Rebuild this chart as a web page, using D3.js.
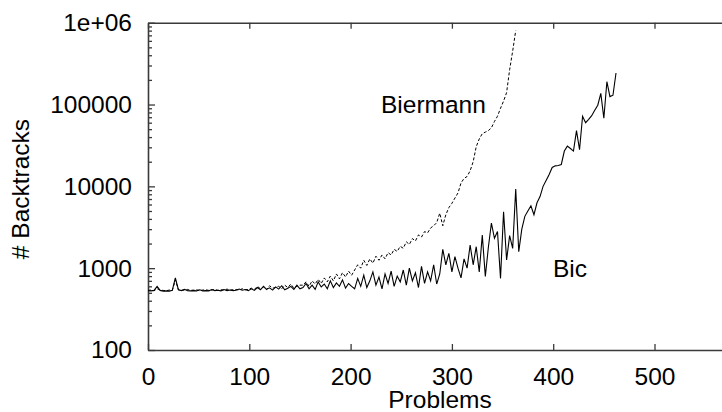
<!DOCTYPE html>
<html>
<head>
<meta charset="utf-8">
<script src="https://cdn.jsdelivr.net/npm/d3@7"></script>
<style>
  html, body { margin: 0; padding: 0; background: #fff; }
  svg { display: block; }
  text { font-family: "Liberation Sans", Arial, Helvetica, sans-serif; fill: #000; }
</style>
</head>
<body>
<svg id="chart" width="722" height="412"></svg>
<script>
// ---- data ----
const xStep = 3; // problems sampled every 3rd index
const bicValues = [
  // 0..99
  530, 528, 535, 600, 535, 525, 528, 525, 535, 760, 545, 532, 552, 532, 528, 532, 528, 545, 528, 532,
  528, 548, 532, 538, 528, 548, 532, 542, 532, 538, 555, 538, 548, 532,
  // 102..150
  560, 535, 580, 545, 600, 550, 575, 540, 590, 555, 610, 545, 570, 600, 550, 620, 560,
  // 153..201
  580, 650, 560, 620, 550, 680, 590, 640, 560, 700, 580, 660, 600, 720, 570, 650, 600,
  // 204..249
  560, 750, 600, 820, 580, 700, 900, 620, 780, 560, 850, 650, 920, 600, 800, 680,
  // 252..288
  950, 620, 1000, 700, 880, 580, 1050, 650, 900, 700, 1100, 640, 850,
  // 291..369
  1700, 1100, 1520, 900, 1380, 1000, 760, 1300, 1000, 1920, 1100, 1830, 900, 2540, 790, 1800,
  3550, 2320, 2800, 750, 4900, 1260, 2500, 1740, 9300, 1590, 3000,
  // 372..462
  4300, 5000, 5800, 4500, 6300, 7500, 10000, 11800, 14000, 17000, 17800, 18000, 18500, 27000,
  31000, 29000, 27000, 48000, 28000, 72000, 60000, 66000, 73000, 85000, 98000, 137000, 68000,
  190000, 125000, 130000, 243000
];
const biermannValues = [
  // 0..99
  535, 540, 530, 560, 540, 535, 530, 540, 535, 720, 545, 535, 540, 550, 535, 540, 545, 530, 540, 545,
  535, 540, 550, 535, 545, 540, 555, 540, 545, 550, 540, 560, 545, 550,
  // 102..150
  570, 550, 600, 560, 590, 545, 610, 570, 580, 600, 560, 620, 580, 640, 570, 600, 620,
  // 153..201
  620, 680, 600, 700, 640, 730, 650, 760, 680, 800, 700, 850, 740, 880, 780, 920, 820,
  // 204..249
  950, 1100, 1000, 1250, 1080, 1300, 1150, 1400, 1250, 1450, 1300, 1550, 1450, 1700, 1600, 1850,
  // 252..288
  1750, 2100, 1950, 2300, 2150, 2550, 2400, 2800, 2700, 3100, 3300, 3600, 4700,
  // 291..363
  3300, 4500, 5500, 6200, 7200, 8300, 11000, 12500, 13200, 15500, 20000, 30500, 38000, 44000,
  46000, 48000, 52000, 62000, 72000, 90000, 110000, 140000, 267000, 450000, 800000
];
const xTicks = [0, 100, 200, 300, 400, 500];
const yTicks = [100, 1000, 10000, 100000, 1000000];
const yTickLabels = ["100", "1000", "10000", "100000", "1e+06"];
const xLabel = "Problems";
const yLabel = "# Backtracks";
const seriesNames = ["Biermann", "Bic"];

// ---- layout ----
const svg = d3.select("#chart");
const plotLeft = 148, plotTop = 22.7, plotBottom = 350, pxPer100 = 101.3;
const x = d3.scaleLinear().domain([0, 600]).range([plotLeft, plotLeft + 6 * pxPer100]);
const y = d3.scaleLog().domain([100, 1e6]).range([plotBottom, plotTop]);
const fontSize = 24.5;
const axisColor = "#3a3a3a";

// minor y ticks
const minorY = [];
for (let d = 100; d < 1e6; d *= 10) for (let m = 2; m <= 9; m++) minorY.push(d * m);

function styleAxis(g) {
  g.selectAll(".domain").attr("stroke", axisColor).attr("stroke-width", 1.6);
  g.selectAll(".tick line").attr("stroke", axisColor).attr("stroke-width", 1.3);
  g.selectAll("text").attr("font-size", fontSize)
    .attr("font-family", "'Liberation Sans', Arial, Helvetica, sans-serif").attr("fill", "#000");
}

// left axis (major)
svg.append("g").attr("transform", `translate(${plotLeft},0)`)
  .call(d3.axisLeft(y).tickValues(yTicks).tickFormat((d, i) => yTickLabels[i])
    .tickSizeInner(-7).tickSizeOuter(0).tickPadding(16))
  .call(styleAxis);
// left axis (minor)
svg.append("g").attr("transform", `translate(${plotLeft},0)`)
  .call(d3.axisLeft(y).tickValues(minorY).tickFormat("").tickSizeInner(-4).tickSizeOuter(0))
  .call(g => g.select(".domain").remove())
  .call(styleAxis);
// bottom axis
svg.append("g").attr("transform", `translate(0,${plotBottom})`)
  .call(d3.axisBottom(x).tickValues(xTicks).tickFormat(d3.format("d"))
    .tickSizeInner(-6).tickSizeOuter(0).tickPadding(17.6))
  .call(styleAxis);
// top axis
svg.append("g").attr("transform", `translate(0,${plotTop})`)
  .call(d3.axisTop(x).tickValues(xTicks).tickFormat("").tickSizeInner(-6).tickSizeOuter(0))
  .call(styleAxis);

// axis titles
svg.append("text").attr("x", 440).attr("y", 408).attr("text-anchor", "middle")
  .attr("font-size", fontSize).text(xLabel);
svg.append("text").attr("transform", "translate(29,189) rotate(-90)").attr("text-anchor", "middle")
  .attr("font-size", fontSize).text(yLabel);

// series
const line = d3.line().x((d, i) => x(i * xStep)).y(d => y(d));
svg.append("path").datum(biermannValues).attr("d", line)
  .attr("fill", "none").attr("stroke", "#000").attr("stroke-width", 1)
  .attr("stroke-dasharray", "3,2");
svg.append("path").datum(bicValues).attr("d", line)
  .attr("fill", "none").attr("stroke", "#000").attr("stroke-width", 1.1);

// series labels
svg.append("text").attr("x", 381).attr("y", 113).attr("font-size", fontSize).text(seriesNames[0]);
svg.append("text").attr("x", 553).attr("y", 277).attr("font-size", fontSize).text(seriesNames[1]);
</script>
</body>
</html>
